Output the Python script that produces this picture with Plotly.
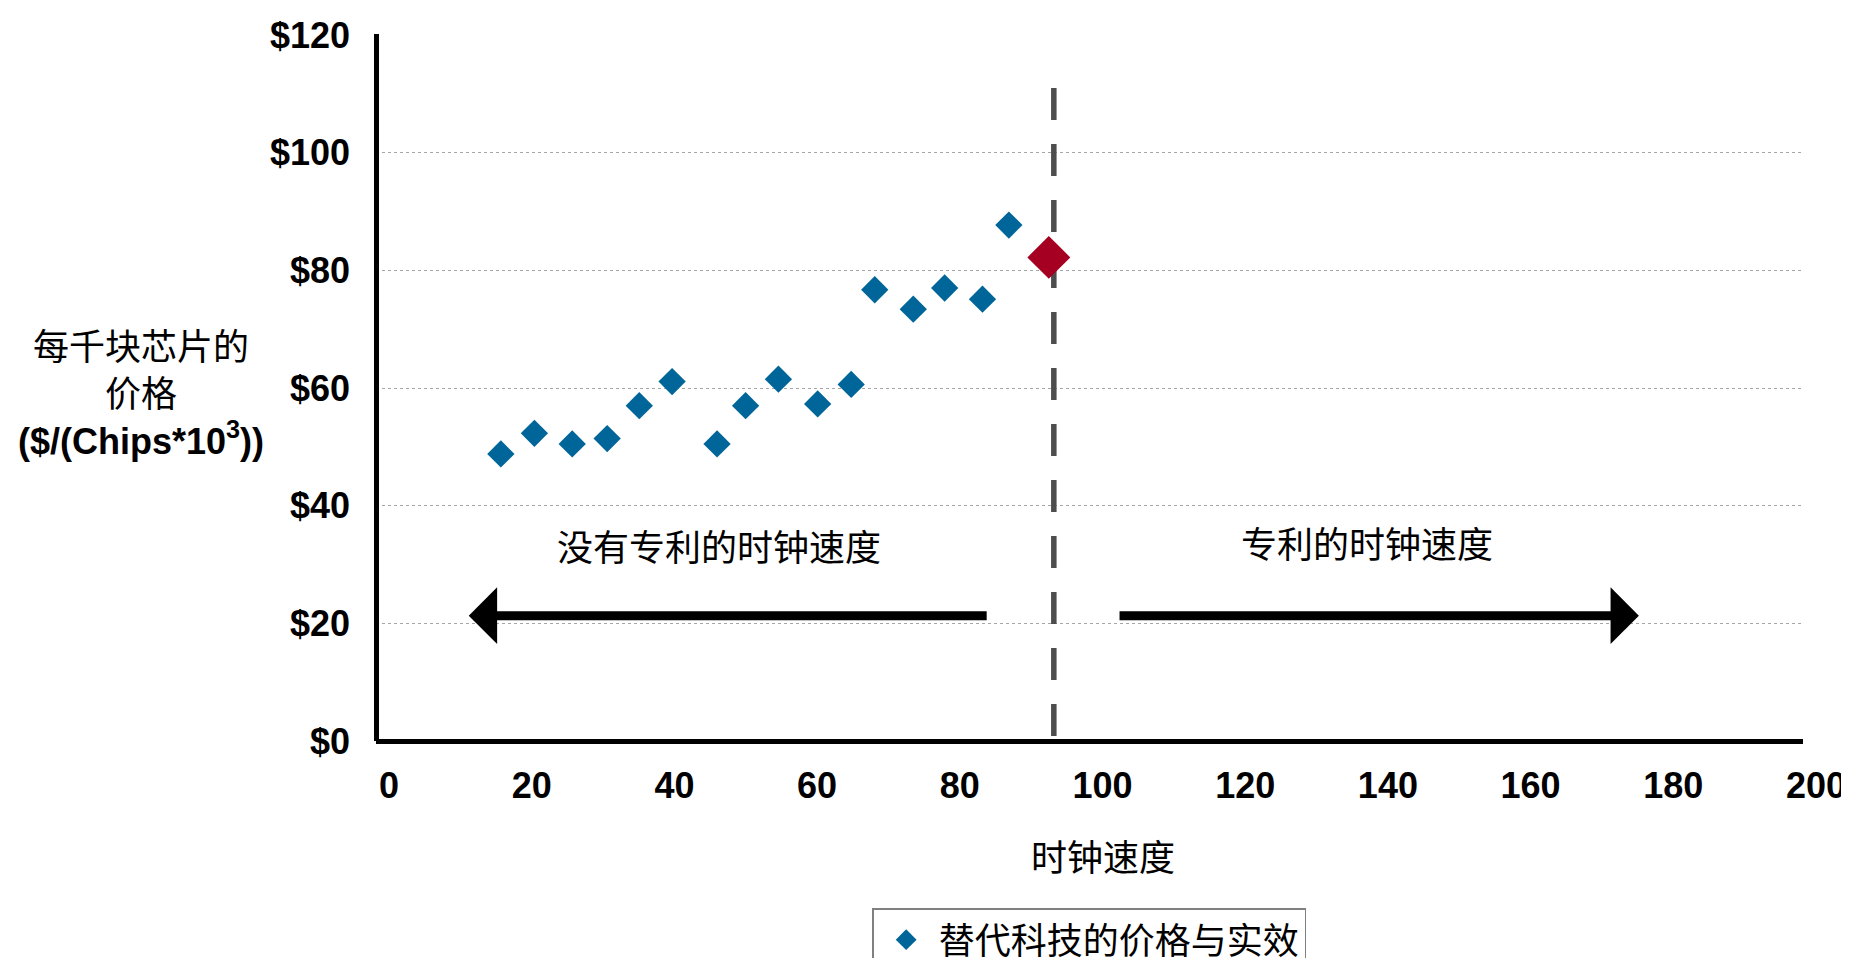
import plotly.graph_objects as go

# ---- data ----
clock_speed = [17.5, 22.2, 27.5, 32.4, 36.9, 41.5, 47.8, 51.8, 56.4, 61.9, 66.6, 69.9, 75.3, 79.7, 85.0, 88.7]
price = [48.8, 52.3, 50.5, 51.4, 57.0, 61.1, 50.5, 57.0, 61.5, 57.3, 60.6, 76.7, 73.4, 77.0, 75.1, 87.7]
highlight_x = [94.3]
highlight_y = [82.2]
threshold_x = [95.0, 95.0]
threshold_y = [111.0, 0.0]
left_arrow_x = [85.8, 13.0]    # tail, tip
right_arrow_x = [104.0, 177.0]  # tail, tip
arrow_y = 21.3
x_ticks = [0, 20, 40, 60, 80, 100, 120, 140, 160, 180, 200]
y_ticks = [0, 20, 40, 60, 80, 100, 120]
y_tick_labels = ["$0", "$20", "$40", "$60", "$80", "$100", "$120"]
series_name = "替代科技的价格与实效"
x_title = "时钟速度"
y_title = "每千块芯片的<br>价格<br><b>($/(Chips*10<sup>3</sup>))</b>"
left_label = "没有专利的时钟速度"
right_label = "专利的时钟速度"
label_pos = [(48.1, 33.3), (138.9, 33.8)]

BLUE = "#006699"
RED = "#a50021"
CJK = "Noto Sans CJK SC"
LAT = "Liberation Sans, Arial, sans-serif"

# the page body has a default 8px margin; size the figure to fill the rest
PAGE_OFFSET = 8

fig = go.Figure()

fig.add_trace(go.Scatter(
    x=threshold_x, y=threshold_y, mode="lines",
    line=dict(color="#4d4d4d", width=5.5, dash="32px,24px"),
    showlegend=False, hoverinfo="skip"))

fig.add_trace(go.Scatter(
    x=clock_speed, y=price, mode="markers", name=series_name,
    marker=dict(symbol="diamond", size=21, color=BLUE, line=dict(width=0))))

fig.add_trace(go.Scatter(
    x=highlight_x, y=highlight_y, mode="markers", showlegend=False,
    marker=dict(symbol="diamond", size=33, color=RED, line=dict(width=0))))

annotations = [
    dict(x=left_arrow_x[1], y=arrow_y, ax=left_arrow_x[0], ay=arrow_y,
         xref="x", yref="y", axref="x", ayref="y", text="", showarrow=True,
         arrowhead=1, arrowwidth=9, arrowsize=1.05, arrowcolor="black"),
    dict(x=right_arrow_x[1], y=arrow_y, ax=right_arrow_x[0], ay=arrow_y,
         xref="x", yref="y", axref="x", ayref="y", text="", showarrow=True,
         arrowhead=1, arrowwidth=9, arrowsize=1.05, arrowcolor="black"),
    dict(x=label_pos[0][0], y=label_pos[0][1], xref="x", yref="y", text=left_label,
         showarrow=False, font=dict(family=CJK, size=36, color="black")),
    dict(x=label_pos[1][0], y=label_pos[1][1], xref="x", yref="y", text=right_label,
         showarrow=False, font=dict(family=CJK, size=36, color="black")),
    dict(x=0.5095, y=-0.1615, xref="paper", yref="paper", text=x_title,
         showarrow=False, xanchor="center", yanchor="middle",
         font=dict(family=CJK, size=36, color="black")),
    dict(x=-0.1644, y=0.49, xref="paper", yref="paper", text=y_title,
         showarrow=False, xanchor="center", yanchor="middle", align="center",
         font=dict(family=LAT + ", " + CJK, size=36, color="black")),
]

fig.update_layout(
    width=1849 - PAGE_OFFSET, height=958 - PAGE_OFFSET,
    margin=dict(l=376 - PAGE_OFFSET, r=46, t=34 - PAGE_OFFSET, b=217, autoexpand=False),
    paper_bgcolor="white", plot_bgcolor="white",
    annotations=annotations,
    showlegend=True,
    legend=dict(orientation="h", x=0.3477, y=-0.2366, xanchor="left", yanchor="top",
                bordercolor="#808080", borderwidth=1.5, bgcolor="white",
                font=dict(family=CJK, size=36, color="black"), itemwidth=55),
    xaxis=dict(range=[0, 200], tickvals=x_ticks, showgrid=False, showline=False,
               zeroline=True, zerolinecolor="black", zerolinewidth=5,
               ticks="", ticklabelshift=13, ticklabelstandoff=20, automargin=False,
               tickfont=dict(family=LAT, size=36, color="black", weight="bold")),
    yaxis=dict(range=[0, 120.17], tickvals=y_ticks, ticktext=y_tick_labels,
               showgrid=True, gridcolor="#a6a6a6", gridwidth=1, griddash="dot",
               showline=False, zeroline=True, zerolinecolor="black", zerolinewidth=5,
               ticks="", ticklabelstandoff=25, automargin=False,
               tickfont=dict(family=LAT, size=36, color="black", weight="bold")),
)

fig.write_html("out.html")
